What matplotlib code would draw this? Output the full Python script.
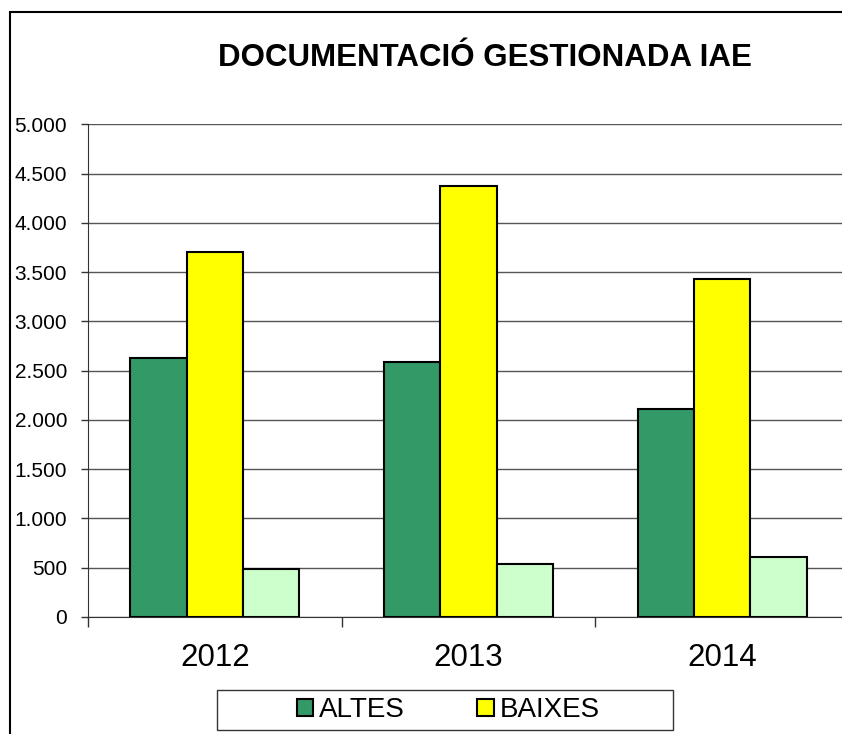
import matplotlib
matplotlib.use("Agg")
import matplotlib.pyplot as plt
from matplotlib.patches import Patch, Rectangle
from matplotlib.ticker import FuncFormatter
import numpy as np

plt.rcParams['font.family'] = ['Liberation Sans', 'DejaVu Sans']

anys = ['2012', '2013', '2014']
altes = [2625, 2590, 2110]
baixes = [3705, 4370, 3435]
altres = [490, 540, 605]

colors = ['#339966', '#FFFF00', '#CCFFCC']

fig = plt.figure(figsize=(8.42, 7.34), dpi=100)
# marc exterior del grafic (retallat a dreta i a baix)
fig.patches.append(Rectangle((10 / 842, -0.05), 1.2, 1 - 12 / 734 + 0.05,
                             transform=fig.transFigure, fill=False,
                             edgecolor='black', linewidth=1.5))

ax = fig.add_axes([88 / 842, 117 / 734, 761 / 842, 492.7 / 734])

x = np.arange(len(anys))
w = 0.2225
for i, (serie, c) in enumerate(zip([altes, baixes, altres], colors)):
    ax.bar(x + (i - 1) * w, serie, w, color=c, edgecolor='black',
           linewidth=1.5, zorder=3)

ax.set_xlim(-0.5, 2.5)
ax.set_ylim(0, 5000)
ax.set_yticks(np.arange(0, 5001, 500))
ax.yaxis.set_major_formatter(FuncFormatter(lambda v, p: f"{int(v):,}".replace(",", ".")))
ax.grid(axis='y', color='#555555', linewidth=1, zorder=0)

ax.set_xticks([-0.5, 0.5, 1.5, 2.5])
ax.set_xticklabels([])
ax.set_xticks(x, minor=True)
ax.set_xticklabels(anys, minor=True, fontsize=22.5)
ax.tick_params(axis='x', which='major', length=7, color='#333333', width=1)
ax.tick_params(axis='x', which='minor', length=0, pad=19)
ax.tick_params(axis='y', length=5, color='#333333', width=1, pad=10, labelsize=15)

for s in ['top', 'right']:
    ax.spines[s].set_visible(False)
ax.spines['left'].set_color('#333333')
ax.spines['bottom'].set_color('#333333')

fig.text(484.5 / 842, 1 - 66 / 734, 'DOCUMENTACIÓ GESTIONADA IAE',
         fontsize=22.5, fontweight='bold', ha='center', va='baseline')

# llegenda
fig.patches.append(Rectangle((216.7 / 842, 1 - 730 / 734), 456 / 842, 40 / 734,
                             transform=fig.transFigure, fill=True,
                             facecolor='white', edgecolor='#333333', linewidth=1))
handles = [Patch(facecolor=colors[0], edgecolor='black', linewidth=1.5, label='ALTES'),
           Patch(facecolor=colors[1], edgecolor='black', linewidth=1.5, label='BAIXES')]
fig.legend(handles=handles, loc='center', bbox_to_anchor=(448.5 / 842, 1 - 710 / 734),
           ncol=2, frameon=False, fontsize=20, handlelength=0.58, handleheight=0.58,
           handletextpad=0.22, columnspacing=2.6, borderpad=0)

fig.savefig('out.png', dpi=100)
